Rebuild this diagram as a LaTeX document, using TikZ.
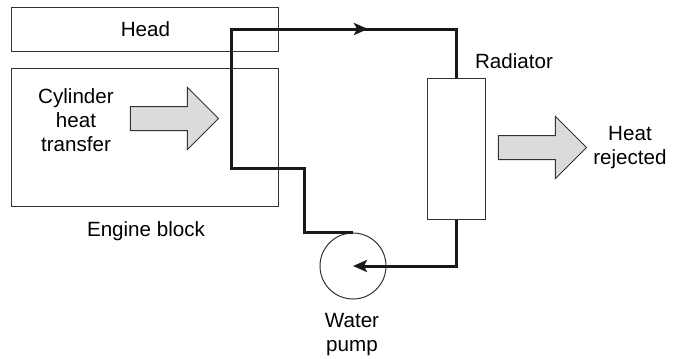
\documentclass[tikz,border=0pt]{standalone}
\usepackage{fontspec}
\setmainfont{Liberation Sans}
\usepackage{tikz}
\usetikzlibrary{arrows.meta,shapes.arrows}

\begin{document}
\begin{tikzpicture}[x=0.5pt, y=-0.5pt, font=\fontsize{10.3}{12}\selectfont, part/.style={draw=black!80, line width=0.5pt, fill=white, inner sep=0pt}, heatflow/.style={single arrow, draw=black!80, line width=0.5pt, fill=black!14, inner sep=5.75pt, minimum height=44pt, minimum width=30.5pt, single arrow head extend=9.5pt, anchor=tail}, pipe/.style={line width=1.5pt, draw=black!90}, flowtip/.style={-{Stealth[length=7pt, width=6pt, inset=1.5pt]}}, lbl/.style={align=center, inner sep=0pt}
]
  \useasboundingbox (0,0) rectangle (677,359);
  \node[part, minimum width=133.5pt, minimum height=22pt] (head) at (145.5,29) {};
  \node[part, minimum width=133.5pt, minimum height=69pt] (block) at (145.5,137) {};
  \node[part, minimum width=29pt, minimum height=70.5pt] (rad) at (457,148.5) {};
  \node[part, circle, minimum size=33pt] (pump) at (353,266) {};
  \node[heatflow] (cylheat) at (130,118.5) {};
  \node[heatflow] (rejheat) at (498,147.5) {};
  % labels
  \node[lbl] (headlbl) at (145.5,29) {Head};
  \node[lbl] (cyllbl) at (76,120) {Cylinder\\heat\\transfer};
  \node[lbl] (blocklbl) at (146,231) {Engine block};
  \node[lbl] (radlbl) at (514,61) {Radiator};
  \node[lbl] (rejlbl) at (630,148) {Heat\\rejected};
  \node[lbl] (pumplbl) at (352,335) {Water\\pump};
  % coolant loop
  \coordinate (jog) at (305,168);
  \coordinate (riser) at (232,29);
  \coordinate (flow) at (368,29);
  \draw[pipe] (pump.north) -| (jog) -| (riser) -| (rad.north);
  \draw[pipe, flowtip] (riser) -- (flow);
  \draw[pipe, flowtip] (rad.south) |- (pump.center);
\end{tikzpicture}
\end{document}
